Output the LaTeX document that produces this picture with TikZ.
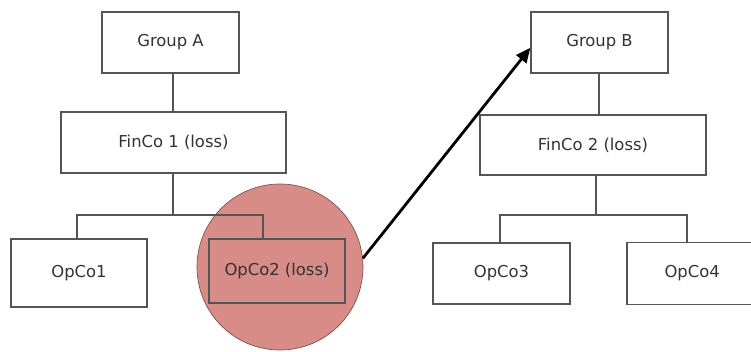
\documentclass[tikz,border=0pt]{standalone}
\usepackage{fontspec}
\setmainfont{DejaVu Sans}
\usetikzlibrary{arrows.meta}
\definecolor{boxline}{RGB}{85,85,85}
\definecolor{lossfill}{RGB}{216,140,136}
\definecolor{lossline}{RGB}{120,78,76}
\tikzset{
  entity/.style={draw=boxline, line width=0.95pt, rectangle, inner sep=0pt,
    font=\fontsize{12.3}{14}\selectfont, text=black!80},
  openentity/.style={entity, draw=none},
  link/.style={draw=boxline, line width=0.8pt},
  transfer/.style={draw=black, line width=2.1pt, -{Triangle[length=11pt,width=9.5pt]}},
  highlight/.style={circle, fill=lossfill, draw=lossline, line width=0.5pt, inner sep=0pt}
}
\begin{document}
\begin{tikzpicture}[x=0.75pt,y=-0.75pt]
\useasboundingbox (0,0) rectangle (751,351);
\clip (0,0) rectangle (751,351);
% loss highlight behind OpCo2
\node[highlight, minimum size=124.5pt] (hl) at (280,267) {};
% group A side
\node[entity, minimum width=102.75pt, minimum height=45.75pt] (gA) at (170.5,42.5) {Group A};
\node[entity, minimum width=168.75pt, minimum height=45.75pt] (f1) at (173.5,142.5) {FinCo 1 (loss)};
\node[entity, minimum width=102pt, minimum height=51pt] (o1) at (79,273) {OpCo1};
\node[entity, minimum width=102pt, minimum height=48pt] (o2) at (277,271) {OpCo2 (loss)};
% group B side
\node[entity, minimum width=102.75pt, minimum height=45.75pt] (gB) at (599.5,42.5) {Group B};
\node[entity, minimum width=169.5pt, minimum height=45pt] (f2) at (593,145) {FinCo 2 (loss)};
\node[entity, minimum width=102.75pt, minimum height=45.75pt] (o3) at (501.5,273.5) {OpCo3};
% OpCo4 runs off the right edge, so only three sides are drawn
\node[openentity, minimum width=120pt, minimum height=45.75pt] (o4) at (707.5,273.5) {\hspace*{-23pt}OpCo4};
\draw[boxline, line width=0.95pt] (o4.north east) -- (o4.north west) -- (o4.south west) -- (o4.south east);
% tree connectors
\coordinate (j1) at (173,215);
\coordinate (j2) at (596,215);
\draw[link] (gA.south -| 173,0) -- (f1.north -| 173,0);
\draw[link] (f1.south -| j1) -- (j1);
\draw[link] (o1.north -| 77,0) |- (j1) -| (o2.north -| 263,0);
\draw[link] (gB.south -| 599,0) -- (f2.north -| 599,0);
\draw[link] (f2.south -| j2) -- (j2);
\draw[link] (o3.north -| 500,0) |- (j2) -| (o4.north -| 687,0);
% transfer arrow
\draw[transfer] (hl.6) -- ([yshift=-4pt]gB.west);
\end{tikzpicture}
\end{document}
